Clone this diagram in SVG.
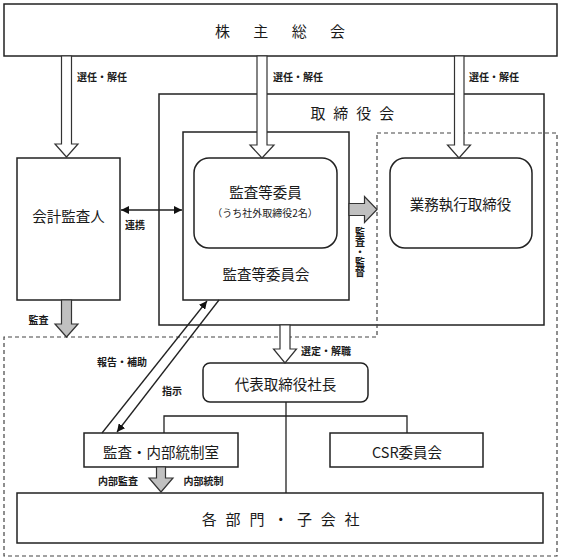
<svg xmlns="http://www.w3.org/2000/svg" width="561" height="560" viewBox="0 0 561 560">
<style>
text { font-family: "Noto Sans CJK JP", "Noto Sans", sans-serif; fill: #1a1a1a; text-anchor: middle; dominant-baseline: central; }
.box { fill: #fff; stroke: #222; stroke-width: 1.5; }
.big { font-size: 14.5px; }
.lbl { font-size: 10px; font-weight: bold; }
.vt { writing-mode: vertical-rl; text-orientation: upright; glyph-orientation-vertical: 0; text-anchor: start; letter-spacing: 0; }
.wa { fill: #fff; stroke: #333; stroke-width: 1.2; }
.ga { fill: #c0c0c0; stroke: #333; stroke-width: 1.2; }
.ln { fill: none; stroke: #222; stroke-width: 1.3; }
.dash { fill: none; stroke: #444; stroke-width: 1.2; stroke-dasharray: 4 3; }
</style>
<defs>
<marker id="ah" viewBox="0 0 10 10" refX="10" refY="5" markerWidth="8" markerHeight="8" markerUnits="userSpaceOnUse" orient="auto-start-reverse">
<path d="M0,0 L10,5 L0,10 Z" fill="#111"/>
</marker>
</defs>

<g id="shareholders">
<rect class="box" x="4" y="4" width="553" height="52"/>
<text x="285" y="30" style="font-size:15px;letter-spacing:10px">株 主 総 会</text>
</g>

<g id="board">
<rect class="box" x="159" y="94" width="385" height="231"/>
<text x="353.5" y="112" style="font-size:15px;letter-spacing:2.3px">取 締 役 会</text>
</g>

<g id="audit-committee">
<rect class="box" x="183" y="132" width="166" height="168"/>
<text class="big" x="266" y="273">監査等委員会</text>
</g>

<g id="audit-members">
<rect class="box" x="194" y="158" width="143" height="90" rx="15"/>
<text class="big" x="265.5" y="191">監査等委員</text>
<text x="265" y="212" style="font-size:10px">（うち社外取締役2名）</text>
</g>

<g id="executive-dashed">
<path class="dash" d="M377,133 H557 V556 H4 V337 H377 Z"/>
</g>

<g id="executive">
<rect class="box" x="390" y="158" width="142" height="90" rx="15"/>
<text class="big" x="460.5" y="203">業務執行取締役</text>
</g>

<g id="accounting-auditor">
<rect class="box" x="17" y="158" width="103" height="142"/>
<text class="big" x="68.5" y="215">会計監査人</text>
</g>

<g id="president">
<rect class="box" x="203" y="363" width="165" height="39" rx="7"/>
<text class="big" x="285.5" y="383">代表取締役社長</text>
</g>

<g id="internal-audit">
<rect class="box" x="84" y="433" width="154" height="34"/>
<text class="big" x="161" y="451">監査・内部統制室</text>
</g>

<g id="csr">
<rect class="box" x="330" y="433" width="153" height="34"/>
<text class="big" x="407" y="451">CSR委員会</text>
</g>

<g id="departments">
<rect class="box" x="17" y="493" width="526" height="50"/>
<text x="282" y="518" style="font-size:15px;letter-spacing:2.7px">各 部 門 ・ 子 会 社</text>
</g>

<g id="connectors">
<path class="wa" d="M61.5,56 H71.5 V144 H78 L66.5,157 L55,144 H61.5 Z"/>
<path class="wa" d="M257,56 H267 V145 H274 L262,158 L250,145 H257 Z"/>
<path class="wa" d="M454.5,56 H464 V145 H470.5 L459,158 L447.5,145 H454.5 Z"/>
<path class="wa" d="M280,325 H290 V349 H296.5 L285,363 L273.5,349 H280 Z"/>
<path class="ga" d="M61.5,300 H71.5 V324 H78 L66.5,337 L55,324 H61.5 Z"/>
<path class="ga" d="M349,203.5 H364.5 V196.5 L377,209.5 L364.5,222.5 V215.5 H349 Z"/>
<path class="ga" d="M156.5,467 H165.5 V478 H173 L161,492 L149,478 H156.5 Z"/>
<line class="ln" x1="121" y1="210" x2="182" y2="210" marker-start="url(#ah)" marker-end="url(#ah)"/>
<line class="ln" x1="102" y1="433" x2="207" y2="301" marker-end="url(#ah)"/>
<line class="ln" x1="219" y1="300" x2="117" y2="432" marker-end="url(#ah)"/>
<path class="ln" d="M286,402 V493 M164,433 V416 H407 V433"/>
<text class="lbl" x="102" y="76">選任・解任</text>
<text class="lbl" x="298" y="76">選任・解任</text>
<text class="lbl" x="494" y="76">選任・解任</text>
<text class="lbl" x="135" y="224">連携</text>
<text class="lbl" x="38.5" y="319">監査</text>
<text class="lbl vt" x="360" y="227">監査・監督</text>
<text class="lbl" x="122" y="361">報告・補助</text>
<text class="lbl" x="172" y="390">指示</text>
<text class="lbl" x="326" y="350">選定・解職</text>
<text class="lbl" x="118" y="480">内部監査</text>
<text class="lbl" x="203.5" y="480">内部統制</text>
</g>
</svg>
